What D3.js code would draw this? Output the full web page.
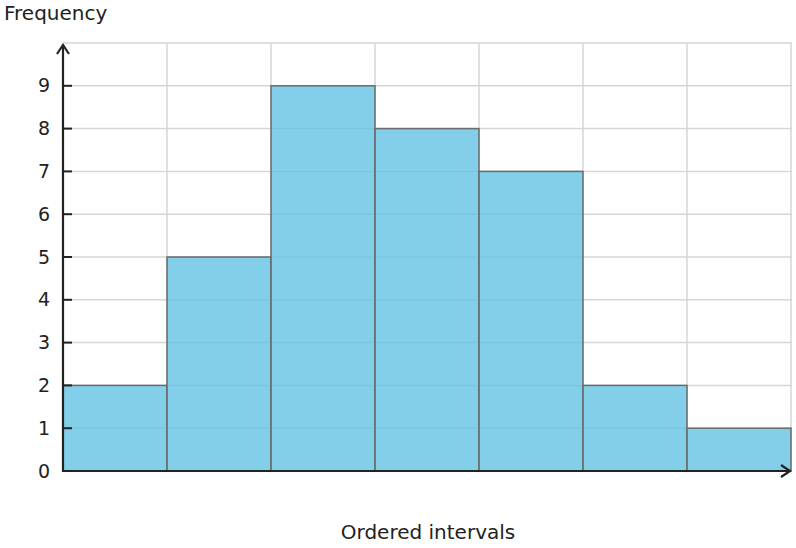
<!DOCTYPE html>
<html><head><meta charset="utf-8">
<script src="https://cdn.jsdelivr.net/npm/d3@7"></script>
<style>body{margin:0;background:#fff}text{font-family:"DejaVu Sans",sans-serif;fill:#222}</style>
</head><body><svg id="c" width="796" height="548"></svg>
<script>
const intervals = [0,1,2,3,4,5,6];
const frequencies = [2,5,9,8,7,2,1];
const yTicks = [0,1,2,3,4,5,6,7,8,9];
const svg = d3.select("#c");
const x = d3.scaleLinear().domain([0,7]).range([63,791]);
const y = d3.scaleLinear().domain([0,10]).range([471,43]);
const g = svg.append("g");
// grid
g.selectAll(".hg").data(d3.range(1,11)).join("line")
 .attr("x1",63).attr("x2",792).attr("y1",d=>y(d)).attr("y2",d=>y(d))
 .attr("stroke","#d6d6d6").attr("stroke-width",1.5);
g.selectAll(".vg").data(d3.range(1,8)).join("line")
 .attr("x1",d=>x(d)).attr("x2",d=>x(d)).attr("y1",y(10)).attr("y2",471)
 .attr("stroke","#d6d6d6").attr("stroke-width",1.5);
// bars
g.selectAll(".bar").data(frequencies).join("rect")
 .attr("x",(d,i)=>x(intervals[i])).attr("width",x(1)-x(0))
 .attr("y",d=>y(d)).attr("height",d=>471-y(d))
 .attr("fill","rgba(100,195,228,0.8)").attr("stroke","#6b6b6b").attr("stroke-width",1.5);
// axes
g.append("line").attr("x1",63).attr("x2",63).attr("y1",472).attr("y2",45).attr("stroke","#222").attr("stroke-width",2.2);
g.append("path").attr("d","M57,54 L63,45 L69,54").attr("fill","none").attr("stroke","#222").attr("stroke-width",2.2);
g.append("line").attr("x1",62).attr("x2",790).attr("y1",471).attr("y2",471).attr("stroke","#222").attr("stroke-width",2.2);
g.append("path").attr("d","M781,465 L790,471 L781,477").attr("fill","none").attr("stroke","#222").attr("stroke-width",2.2);
g.selectAll(".tk").data(yTicks.slice(1)).join("line")
 .attr("x1",63).attr("x2",72).attr("y1",d=>y(d)).attr("y2",d=>y(d)).attr("stroke","#222").attr("stroke-width",2);
g.selectAll(".tl").data(yTicks).join("text")
 .attr("x",50).attr("y",d=>y(d)).attr("dy","0.35em").attr("text-anchor","end")
 .attr("font-size",19).text(d=>d);
svg.append("text").attr("x",4).attr("y",20).attr("font-size",20).text("Frequency");
svg.append("text").attr("x",428).attr("y",539).attr("text-anchor","middle").attr("font-size",20).text("Ordered intervals");
</script></body></html>
